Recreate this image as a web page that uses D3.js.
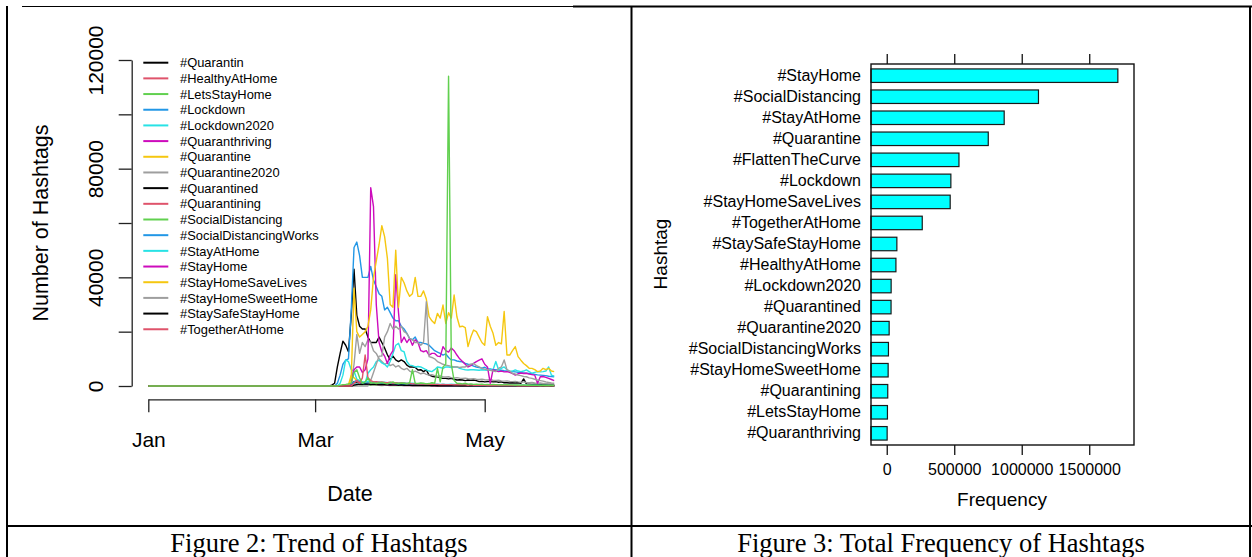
<!DOCTYPE html>
<html>
<head>
<meta charset="utf-8">
<script src="https://cdn.jsdelivr.net/npm/d3@7"></script>
<style>
  body { margin: 0; background: #fff; }
  svg text { font-family: "Liberation Sans", Arial, Helvetica, sans-serif; fill: #000; }
  .caption { font-family: "Liberation Serif", "Times New Roman", serif; }
</style>
</head>
<body>
<svg id="fig" width="1252" height="557"></svg>
<script>
// ---- Figure 2 data: daily counts from 1 Mar 2020 (all series were 0 from 1 Jan until then) ----
const firstDay = new Date(2020, 0, 1);
const seriesStart = new Date(2020, 2, 1);

const hashtags = ['#Quarantin', '#HealthyAtHome', '#LetsStayHome', '#Lockdown', '#Lockdown2020',
  '#Quaranthriving', '#Quarantine', '#Quarantine2020', '#Quarantined', '#Quarantining',
  '#SocialDistancing', '#SocialDistancingWorks', '#StayAtHome', '#StayHome',
  '#StayHomeSaveLives', '#StayHomeSweetHome', '#StaySafeStayHome', '#TogetherAtHome'];

const quarantin = [0,0,0,0,0,0,300,1000,7000,12000,
  16500,15000,12600,26000,43000,26000,22000,21000,21000,18000,
  16000,16000,16000,18000,16000,14000,11500,9600,11000,9600,
  9000,9600,9000,7700,7000,7000,6900,5900,6000,5300,
  5900,4000,3600,3400,3400,3000,2800,2800,2600,2800,
  2500,2200,2300,2200,2000,2200,2100,2200,2000,1600,
  1700,1500,1600,1600,1500,1600,1400,1500,1200,1200,
  1100,1200,1100,1200,1000,2600,800,700,600,700,
  600,600,500,600,600,500,500];
const healthyAtHome = [0,0,0,0,0,0,0,0,0,0,
  0,0,0,0,200,500,800,600,900,700,
  800,700,900,600,700,800,600,700,500,600,
  500,600,500,400,500,400,500,400,300,400,
  400,300,400,300,300,400,300,300,200,300,
  300,200,300,200,200,300,200,200,200,200,
  200,200,100,200,200,100,200,100,100,200,
  100,100,200,100,100,100,100,100,100,100,
  100,100,100,100,100,100,100];
const letsStayHome = [0,0,0,0,0,0,0,0,0,0,
  0,0,0,0,300,600,400,300,500,400,
  300,400,300,300,200,300,300,200,300,200,
  200,300,200,200,300,200,200,200,200,100,
  200,100,200,100,100,200,100,100,100,100,
  100,100,100,100,100,100,100,100,100,100,
  100,100,100,100,100,100,100,100,100,100,
  100,100,100,100,0,100,100,0,100,100,
  0,100,100,0,100,0,0];
const lockdown = [0,0,0,0,0,0,0,0,1000,4000,
  8000,9500,10000,28000,51000,53000,48000,40000,40000,40000,
  44000,39000,36500,34000,33000,28000,29000,27000,25000,24000,
  24000,22000,21000,19400,17500,17000,18000,16000,16000,15700,
  15500,15000,14000,13000,12500,12000,11400,11800,10500,9600,
  9600,9200,9000,8900,8300,8000,7900,7300,7000,6800,
  6600,6900,6400,6300,6000,6000,5900,5800,5600,5500,
  5400,5300,5200,5000,4900,4800,4700,4600,4500,4300,
  4100,4000,3900,3800,3600,3500,3400];
const lockdown2020 = [0,0,0,0,0,0,0,0,0,1000,
  4000,9600,9000,6000,5500,2500,2000,1500,1500,1800,
  1500,1600,1400,1500,1300,1400,1200,1300,1100,1200,
  1100,1000,1100,1000,900,1000,900,800,900,800,
  800,700,800,700,700,600,700,600,600,700,
  600,600,500,600,500,500,600,500,500,500,
  500,400,500,400,400,500,400,400,400,400,
  400,300,400,300,300,400,300,300,300,300,
  300,300,200,300,300,200,200];
const quaranthriving = [0,0,0,0,0,0,0,0,0,0,
  0,0,0,300,1500,2000,1200,800,600,700,
  500,600,500,400,500,400,400,300,400,300,
  300,300,200,300,200,300,200,200,200,200,
  200,200,100,200,100,100,200,100,100,100,
  100,100,100,100,100,100,100,100,100,100,
  100,100,100,100,100,100,100,100,100,100,
  100,100,100,100,100,100,100,100,0,100,
  100,0,100,100,0,100,100];
const quarantine = [0,0,0,0,0,0,0,0,0,0,
  0,0,500,4000,3000,2000,1500,1200,1000,1100,
  1000,900,1000,800,900,800,700,800,700,600,
  700,600,600,500,600,500,500,400,500,400,
  400,400,300,400,300,300,400,300,300,300,
  300,200,300,200,300,200,200,200,300,200,
  200,200,200,100,200,200,100,200,100,200,
  100,100,200,100,100,100,100,100,100,100,
  100,100,100,100,100,100,100];
const quarantine2020 = [0,0,0,0,0,0,0,0,0,0,
  0,0,0,1000,8000,19000,12000,16000,14500,17000,
  16000,13000,12000,10000,9000,8000,8500,7500,8000,7000,
  7500,6500,6000,6500,5500,5000,5500,5000,4500,4800,
  4300,4000,4200,3800,3600,3700,3400,3300,3400,3100,
  3000,3100,2900,2800,2900,2700,2600,2700,2500,2400,
  2500,2300,2200,2300,2100,2000,2100,1900,1800,1900,
  1700,1600,1700,1500,1400,1500,1300,1200,1300,1100,
  1000,1100,900,900,800,800,700];
const quarantined = [0,0,0,0,0,0,0,0,0,0,
  0,0,200,800,1500,1200,1000,900,800,900,
  800,700,800,700,600,700,600,500,600,500,
  500,400,500,400,400,300,400,300,300,300,
  300,300,200,300,200,200,300,200,200,200,
  200,200,100,200,100,100,100,100,100,100,
  100,100,100,100,100,100,100,100,100,100,
  100,100,100,100,100,100,100,100,100,100,
  100,100,100,100,100,100,100];
const quarantining = [0,0,0,0,0,0,0,0,0,0,
  0,0,0,0,500,1000,800,1200,1000,900,
  800,900,700,800,700,600,700,600,500,600,
  500,500,400,500,400,400,300,400,300,300,
  300,300,300,200,300,200,200,300,200,200,
  200,200,200,200,100,200,200,100,200,100,
  100,100,200,100,100,100,100,100,100,100,
  100,100,100,100,100,100,100,100,100,100,
  100,100,100,100,100,100,100];
const socialDistancing = [0,0,0,0,0,0,0,0,0,300,
  500,600,800,1000,5000,6000,3000,1000,1500,3000,
  1000,1200,900,1100,1300,1000,800,1200,1500,1000,
  900,1100,1000,800,1200,6000,1000,900,1100,1000,
  800,900,1200,1000,6500,1500,7000,8000,114000,8000,
  2000,1000,900,800,1000,700,800,600,700,600,
  700,500,600,500,600,500,400,500,400,500,
  400,400,300,400,300,400,300,300,300,300,
  300,200,300,200,200,300,200];
const socialDistancingWorks = [0,0,0,0,0,0,0,0,0,0,
  0,0,300,800,1500,2000,1500,1200,1000,1100,
  1000,900,1000,800,900,800,700,800,700,600,
  600,500,600,500,500,400,500,400,400,400,
  400,300,400,300,300,300,300,200,300,200,
  200,200,200,200,200,200,200,100,200,100,
  100,100,100,100,100,100,100,100,100,100,
  100,100,100,100,100,100,100,100,100,100,
  100,100,100,100,100,100,100];
const stayAtHome = [0,0,0,0,0,0,0,0,0,0,
  0,0,0,0,500,800,800,600,1000,4700,
  6000,7000,9000,9500,8500,8000,7000,9000,12000,15000,
  15700,13000,12600,9000,7700,7500,7000,7200,7000,6500,
  5900,5500,5300,6000,7000,6800,6500,7000,7000,6800,
  7000,7000,6500,6200,6000,5900,6000,6000,5900,5800,
  6000,5900,5800,5900,6000,9000,5900,6500,7000,6000,
  5300,5500,5900,5500,5300,5500,5900,5300,4700,5000,
  5300,5200,5300,5500,7000,4000,3600];
const stayHome = [0,0,0,0,0,0,0,0,0,0,
  0,0,0,1000,6000,7000,7000,5000,6000,10000,
  73000,66000,30000,16000,12600,11000,8300,11400,13000,41000,
  27000,16000,18000,16000,17500,15000,17000,16000,13000,12600,
  13000,11400,12000,12000,11000,10800,14500,13000,12500,14000,
  13000,11400,10000,9000,8000,7000,7500,8300,9000,9500,
  10000,8000,7000,1000,6000,5500,5300,5500,5200,5300,
  5000,4600,4000,4500,4800,4600,4700,4400,4200,4000,
  1000,3400,3500,3200,2800,2400,2000];
const stayHomeSaveLives = [0,0,0,0,0,0,0,0,0,0,
  0,0,0,3000,36000,20000,18000,19000,20000,22000,
  28000,40000,46000,52000,59000,55000,47000,30000,29000,50000,
  29000,40000,38000,35000,33000,34000,40000,33000,33000,35000,
  32000,25500,24000,23000,26700,25000,29800,23000,27000,25000,
  33500,25500,21800,22000,21500,14500,18000,20600,20000,18000,
  16000,15000,25500,22000,19400,15000,16000,15500,27400,11400,
  11400,13000,14500,10800,9500,8300,7500,6500,6500,6000,
  5300,5500,6500,6000,6500,5500,5300];
const stayHomeSweetHome = [0,0,0,0,0,0,0,0,0,0,
  0,0,0,0,0,0,0,0,0,0,
  2000,5000,8000,11000,11000,18000,20000,23000,21000,22000,
  21000,22000,20000,19400,17500,17000,16000,16000,15000,16000,
  31000,10800,10500,10000,9000,8500,8000,7700,7500,7200,
  7000,7000,6800,7000,7000,7500,8000,8300,7500,7000,
  6500,6200,6000,5800,5500,5300,6500,7000,9600,6000,
  5500,4600,4400,4000,3800,3500,3400,3000,2800,2500,
  2200,2000,1800,1500,1300,1100,1000];
const staySafeStayHome = [0,0,0,0,0,0,0,0,0,0,
  0,0,0,0,300,500,700,600,800,700,
  600,700,600,500,600,500,400,500,400,400,
  300,400,300,300,300,200,300,200,200,200,
  200,200,200,200,100,200,100,100,200,100,
  100,100,100,100,100,100,100,100,100,100,
  100,100,100,100,100,100,100,100,100,100,
  100,100,100,100,100,100,100,100,100,100,
  100,100,0,100,100,0,100];
const togetherAtHome = [0,0,0,0,0,0,0,0,0,0,
  0,0,0,0,1000,2000,1000,3000,11400,3000,
  2000,1500,1600,1400,1500,1300,1200,1400,1100,1200,
  1000,1100,1000,900,1000,800,900,800,700,800,
  700,600,700,600,600,500,600,500,500,500,
  400,500,400,400,400,300,400,300,300,300,
  300,300,200,300,200,200,300,200,200,200,
  200,200,200,100,200,100,100,200,100,100,
  100,100,100,100,100,100,100];

const trendValues = [quarantin, healthyAtHome, letsStayHome, lockdown, lockdown2020,
  quaranthriving, quarantine, quarantine2020, quarantined, quarantining,
  socialDistancing, socialDistancingWorks, stayAtHome, stayHome,
  stayHomeSaveLives, stayHomeSweetHome, staySafeStayHome, togetherAtHome];

const yTicks = [0, 20000, 40000, 60000, 80000, 100000, 120000];
const yLabelled = [0, 40000, 80000, 120000];

// ---- Figure 3 data ----
const freqTags = ['#StayHome', '#SocialDistancing', '#StayAtHome', '#Quarantine', '#FlattenTheCurve',
  '#Lockdown', '#StayHomeSaveLives', '#TogetherAtHome', '#StaySafeStayHome', '#HealthyAtHome',
  '#Lockdown2020', '#Quarantined', '#Quarantine2020', '#SocialDistancingWorks',
  '#StayHomeSweetHome', '#Quarantining', '#LetsStayHome', '#Quaranthriving'];
const freqValues = [1712000, 1124000, 870000, 752000, 535000, 475000, 470000, 263000,
  75000, 68000, 32600, 32000, 17800, 12600, 10400, 7400, 5200, 3000];
const freqTicks = [0, 500000, 1000000, 1500000];

// R default palette, recycled over the series
const palette = ['#000000', '#DF536B', '#61D04F', '#2297E6', '#28E2E5', '#CD0BBC', '#F5C710', '#9E9E9E'];

const svg = d3.select('#fig');

// ================= left: trend lines =================
const x = d3.scaleTime().domain([firstDay, new Date(2020, 4, 1)]).range([148.3, 484.7]);
const y = d3.scaleLinear().domain([0, 120000]).range([386, 60]);

const line = d3.line()
  .x(d => x(d.date))
  .y(d => y(d.value));

let series = trendValues.map((vals, k) => {
  let pts = [{ date: firstDay, value: 0 }];
  vals.forEach((v, i) => pts.push({ date: d3.timeDay.offset(seriesStart, i), value: v }));
  return { name: hashtags[k], color: palette[k % palette.length], points: pts };
});

// #SocialDistancing sits on top of the others in the original
let drawOrder = series.filter(s => s.name !== '#SocialDistancing')
  .concat(series.filter(s => s.name === '#SocialDistancing'));

svg.append('g').selectAll('path')
  .data(drawOrder)
  .enter()
  .append('path')
  .attr('d', d => line(d.points))
  .attr('fill', 'none')
  .attr('stroke', d => d.color)
  .attr('stroke-width', 1.4)
  .attr('stroke-linejoin', 'round');

// x axis (detached, like base R)
let xAxis = svg.append('g')
  .attr('transform', 'translate(0,399.3)')
  .call(d3.axisBottom(x)
    .tickValues([new Date(2020, 0, 1), new Date(2020, 2, 1), new Date(2020, 4, 1)])
    .tickFormat(d3.timeFormat('%b'))
    .tickSize(13).tickSizeOuter(0).tickPadding(20));
xAxis.selectAll('path, line').attr('stroke', '#222').attr('stroke-width', 1.3);
xAxis.selectAll('text').attr('font-size', 21).attr('font-family', '"Liberation Sans", Arial, sans-serif');

// y axis, labels parallel to axis
let yAxis = svg.append('g')
  .attr('transform', 'translate(131.7,0)')
  .call(d3.axisLeft(y).tickValues(yTicks)
    .tickFormat(d => yLabelled.includes(d) ? d : '')
    .tickSize(13).tickSizeOuter(0));
yAxis.selectAll('path, line').attr('stroke', '#222').attr('stroke-width', 1.3);
yAxis.selectAll('text')
  .attr('x', null).attr('dy', null)
  .attr('text-anchor', 'middle')
  .attr('transform', 'translate(-29,0) rotate(-90)')
  .attr('font-size', 21).attr('font-family', '"Liberation Sans", Arial, sans-serif');

svg.append('text')
  .attr('transform', 'translate(48,223) rotate(-90)')
  .attr('text-anchor', 'middle')
  .attr('font-size', 21.5)
  .text('Number of Hashtags');

svg.append('text')
  .attr('x', 350).attr('y', 501)
  .attr('text-anchor', 'middle')
  .attr('font-size', 21.5)
  .text('Date');

// legend
let legend = svg.append('g').selectAll('g')
  .data(series)
  .enter()
  .append('g')
  .attr('transform', (d, i) => 'translate(0,' + (62.7 + i * 15.68) + ')');
legend.append('line')
  .attr('x1', 143.3).attr('x2', 168.3)
  .attr('stroke', d => d.color)
  .attr('stroke-width', 2);
legend.append('text')
  .attr('x', 180).attr('dy', '0.36em')
  .attr('font-size', 12.9)
  .text(d => d.name);

// ================= right: total frequency bars =================
const box = { left: 871, right: 1134, top: 64, bottom: 445 };
const pad = 0.07 * (d3.max(freqValues) - d3.min(freqValues));
const fx = d3.scaleLinear()
  .domain([d3.min(freqValues) - pad, d3.max(freqValues) + pad])
  .range([box.left, box.right]);
const fy = d3.scaleBand()
  .domain(freqTags)
  .range([box.top, box.bottom])
  .paddingInner(0.358)
  .paddingOuter(0.234);

svg.append('g').selectAll('rect')
  .data(freqTags)
  .enter()
  .append('rect')
  .attr('x', box.left)
  .attr('y', d => fy(d))
  .attr('width', (d, i) => fx(freqValues[i]) - box.left)
  .attr('height', fy.bandwidth())
  .attr('fill', '#00FFFF')
  .attr('stroke', '#1a1a1a')
  .attr('stroke-width', 1.2);

svg.append('rect')
  .attr('x', box.left).attr('y', box.top)
  .attr('width', box.right - box.left).attr('height', box.bottom - box.top)
  .attr('fill', 'none').attr('stroke', '#111').attr('stroke-width', 1.4);

let fBottom = svg.append('g')
  .attr('transform', 'translate(0,' + box.bottom + ')')
  .call(d3.axisBottom(fx).tickValues(freqTicks).tickFormat(d3.format('d'))
    .tickSize(10).tickSizeOuter(0).tickPadding(9));
fBottom.select('.domain').remove();
fBottom.selectAll('line').attr('stroke', '#111').attr('stroke-width', 1.3);
fBottom.selectAll('text').attr('font-size', 16).attr('font-family', '"Liberation Sans", Arial, sans-serif');

let fTop = svg.append('g')
  .attr('transform', 'translate(0,' + box.top + ')')
  .call(d3.axisTop(fx).tickValues(freqTicks).tickFormat('').tickSize(10).tickSizeOuter(0));
fTop.select('.domain').remove();
fTop.selectAll('line').attr('stroke', '#111').attr('stroke-width', 1.3);

let fLeft = svg.append('g')
  .attr('transform', 'translate(' + box.left + ',0)')
  .call(d3.axisLeft(fy).tickSize(0).tickPadding(10));
fLeft.select('.domain').remove();
fLeft.selectAll('text').attr('font-size', 16).attr('font-family', '"Liberation Sans", Arial, sans-serif');

svg.append('text')
  .attr('x', 1002).attr('y', 506)
  .attr('text-anchor', 'middle')
  .attr('font-size', 19)
  .text('Frequency');

svg.append('text')
  .attr('transform', 'translate(667,254) rotate(-90)')
  .attr('text-anchor', 'middle')
  .attr('font-size', 19)
  .text('Hashtag');

// ================= table frame and captions =================
let frame = svg.append('g').attr('stroke', '#000').attr('fill', 'none');
frame.append('line').attr('x1', 22).attr('x2', 573).attr('y1', 6.5).attr('y2', 6.5).attr('stroke-width', 1);
frame.append('line').attr('x1', 573).attr('x2', 1252).attr('y1', 6.5).attr('y2', 6.5).attr('stroke-width', 2);
frame.append('line').attr('x1', 7).attr('x2', 7).attr('y1', 6).attr('y2', 557).attr('stroke-width', 2);
frame.append('line').attr('x1', 631.5).attr('x2', 631.5).attr('y1', 6).attr('y2', 557).attr('stroke-width', 2);
frame.append('line').attr('x1', 1250).attr('x2', 1250).attr('y1', 6).attr('y2', 557).attr('stroke-width', 2);
frame.append('line').attr('x1', 7).attr('x2', 1252).attr('y1', 526).attr('y2', 526).attr('stroke-width', 2);

svg.append('text').attr('class', 'caption')
  .attr('x', 319).attr('y', 552)
  .attr('text-anchor', 'middle')
  .attr('font-size', 26.5)
  .text('Figure 2: Trend of Hashtags');
svg.append('text').attr('class', 'caption')
  .attr('x', 941).attr('y', 552)
  .attr('text-anchor', 'middle')
  .attr('font-size', 26.5)
  .text('Figure 3: Total Frequency of Hashtags');
</script>
</body>
</html>
